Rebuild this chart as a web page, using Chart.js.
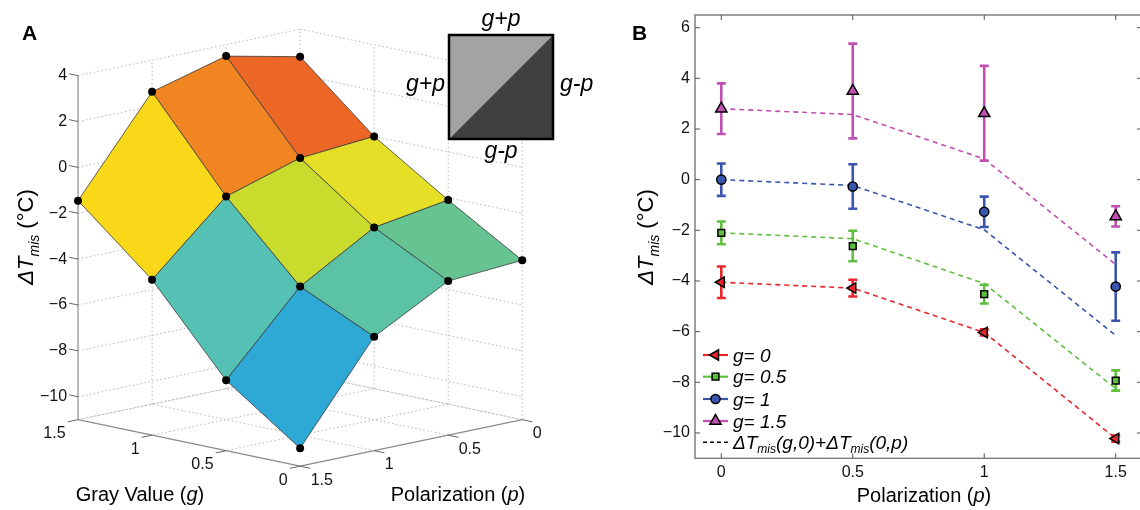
<!DOCTYPE html>
<html><head><meta charset="utf-8">
<script src="https://cdn.jsdelivr.net/npm/chart.js@4.4.0/dist/chart.umd.min.js"></script>
<style>
html,body{margin:0;padding:0;background:#fff;overflow:hidden;width:1140px;height:510px;}
#wrap{position:relative;width:1140px;height:510px;overflow:hidden;}
#cA{position:absolute;left:0;top:0;z-index:2;}
#cB{position:absolute;left:590px;top:0;z-index:1;}
</style></head><body>
<div id="wrap"><canvas id="cA" width="620" height="510"></canvas><canvas id="cB" width="560" height="510"></canvas></div>
<script>
// ---------------- DATA ----------------
const grayValues = [0, 0.5, 1, 1.5];
const polarizations = [0, 0.5, 1, 1.5];
// measured ΔT_mis (°C) for each gray value, indexed by polarization
const dT_g0  = [-4.05, -4.28, -6.03, -10.22];
const dT_g05 = [-2.10, -2.62, -4.52, -7.93];
const dT_g1  = [0.00, -0.27, -1.27, -4.22];
const dT_g15 = [2.80, 3.50, 2.62, -1.45];
// error bar half-lengths
const err_g0  = [0.62, 0.33, 0.12, 0.12];
const err_g05 = [0.45, 0.60, 0.37, 0.40];
const err_g1  = [0.64, 0.88, 0.60, 1.35];
const err_g15 = [1.00, 1.87, 1.87, 0.40];
// additive prediction ΔT(g,0)+ΔT(0,p) (dashed lines)
const pred_g0  = [-4.05, -4.28, -6.03, -10.22];
const pred_g05 = [-2.10, -2.33, -4.10, -8.25];
const pred_g1  = [0.00, -0.23, -1.98, -6.15];
const pred_g15 = [2.80, 2.57, 0.82, -3.35];
const seriesLabels = ['0', '0.5', '1', '1.5'];
// tick labels
const zTicks = [-10, -8, -6, -4, -2, 0, 2, 4];
const zLimits = [-11, 4];
const gTicks = [0, 0.5, 1, 1.5];
const pTicks = [0, 0.5, 1, 1.5];
const bXTicks = [0, 0.5, 1, 1.5];
const bYTicks = [-10, -8, -6, -4, -2, 0, 2, 4, 6];
// surface patch colours (colormap), rows: g interval, cols: p interval
const patchColors = [
  ['#66c392', '#5bc2a3', '#2ea8d5'],
  ['#e5e027', '#c9dc2d', '#55c1b5'],
  ['#ec6626', '#f08522', '#f9d81a']
];

// ---------------- STYLE ----------------
const FONT = '"Liberation Sans", Arial, Helvetica, sans-serif';
const measured = [dT_g0, dT_g05, dT_g1, dT_g15];
const errors = [err_g0, err_g05, err_g1, err_g15];
const predicted = [pred_g0, pred_g05, pred_g1, pred_g15];
const seriesColors = ['#e8262b', '#5fbf3f', '#3a55ad', '#c24fb2'];
const markerStyles = [
  {pointStyle:'triangle', rotation:270, radius:6},
  {pointStyle:'rect', rotation:0, radius:4.8},
  {pointStyle:'circle', rotation:0, radius:4.6},
  {pointStyle:'triangle', rotation:0, radius:6.5}
];
const DEPTH = 31.5 / 23.3; // oblique slant of the floor relative to the temperature axis

function fmtNum(v){ return v < 0 ? '\u2212' + String(-v) : String(v); }
function richWidth(ctx, parts){ let w=0; for(const p of parts){ ctx.font=p.font; w+=ctx.measureText(p.t).width; } return w; }
function drawRich(ctx, parts, x, y, align){
  const w = richWidth(ctx, parts);
  let cx = align==='center' ? x - w/2 : (align==='right' ? x - w : x);
  ctx.textAlign='left'; ctx.textBaseline='alphabetic';
  for(const p of parts){ ctx.font=p.font; ctx.fillText(p.t, cx, y + (p.dy||0)); cx += ctx.measureText(p.t).width; }
}
function dTitleParts(size){
  return [
    {t:'\u0394T', font:'italic '+size+'px '+FONT},
    {t:'mis', font:'italic '+Math.round(size*0.62)+'px '+FONT, dy:size*0.25},
    {t:' (\u00B0C)', font:size+'px '+FONT}
  ];
}

// ---------------- PANEL A (3D surface, oblique projection) ----------------
const surfPoints = [];
grayValues.forEach((g,gi)=>polarizations.forEach((p,pj)=>{
  surfPoints.push({x: g + p, y: measured[gi][pj] - DEPTH*(p - g)});
}));

const surfacePlugin = {
  id:'surface3d',
  beforeDatasetsDraw(chart){
    const ctx=chart.ctx, xs=chart.scales.x, ys=chart.scales.y;
    const P=(g,p,z)=>[xs.getPixelForValue(g+p), ys.getPixelForValue(z - DEPTH*(p-g))];
    const line=(a,b)=>{ ctx.beginPath(); ctx.moveTo(a[0],a[1]); ctx.lineTo(b[0],b[1]); ctx.stroke(); };
    const gMax=grayValues[grayValues.length-1], pMax=polarizations[polarizations.length-1];
    const zLo=zLimits[0], zHi=zLimits[1];
    ctx.save();
    // dotted grid on back walls and floor
    ctx.strokeStyle='#b5b5b5'; ctx.lineWidth=1; ctx.setLineDash([1.5,2.5]);
    zTicks.forEach(z=>{ line(P(gMax,pMax,z),P(gMax,0,z)); line(P(gMax,0,z),P(0,0,z)); });
    line(P(gMax,pMax,zLo),P(gMax,0,zLo)); line(P(gMax,0,zLo),P(0,0,zLo));
    pTicks.forEach(p=>{ if(p<pMax) line(P(gMax,p,zLo),P(gMax,p,zHi)); });
    gTicks.forEach(g=>{ if(g<gMax) line(P(g,0,zLo),P(g,0,zHi)); });
    gTicks.forEach(g=>{ if(g>0) line(P(g,0,zLo),P(g,pMax,zLo)); });
    pTicks.forEach(p=>{ if(p<pMax) line(P(0,p,zLo),P(gMax,p,zLo)); });
    // solid axes
    ctx.setLineDash([]); ctx.strokeStyle='#8c8c8c'; ctx.lineWidth=1.2;
    line(P(gMax,pMax,zLo),P(gMax,pMax,zHi));
    line(P(gMax,pMax,zLo),P(0,pMax,zLo));
    line(P(0,pMax,zLo),P(0,0,zLo));
    ctx.strokeStyle='#666'; ctx.lineWidth=1;
    zTicks.forEach(z=>line(P(gMax,pMax,z),P(gMax+0.06,pMax,z)));
    gTicks.forEach(g=>line(P(g,pMax,zLo),P(g,pMax+0.07,zLo)));
    pTicks.forEach(p=>line(P(0,p,zLo),P(-0.07,p,zLo)));
    // tick labels
    ctx.fillStyle='#111'; ctx.font='16px '+FONT; ctx.textBaseline='middle';
    ctx.textAlign='right';
    zTicks.forEach(z=>{ const a=P(gMax,pMax,z); ctx.fillText(fmtNum(z), a[0]-11, a[1]); });
    gTicks.forEach(g=>{ const a=P(g,pMax,zLo); ctx.fillText(fmtNum(g), a[0]-12.5, a[1]+14); });
    ctx.textAlign='left';
    pTicks.forEach(p=>{ const a=P(0,p,zLo); ctx.fillText(fmtNum(p), a[0]+10.5, a[1]+14); });
    // surface patches, far to near
    const patches=[];
    for(let i=0;i<grayValues.length-1;i++) for(let j=0;j<polarizations.length-1;j++){
      const gc=(grayValues[i]+grayValues[i+1])/2, pc=(polarizations[j]+polarizations[j+1])/2;
      patches.push({i,j,depth:gc-pc});
    }
    patches.sort((a,b)=>b.depth-a.depth);
    ctx.strokeStyle='#3a3a3a'; ctx.lineWidth=0.8; ctx.lineJoin='round';
    patches.forEach(({i,j})=>{
      const c=[[i,j],[i+1,j],[i+1,j+1],[i,j+1]].map(([a,b])=>P(grayValues[a],polarizations[b],measured[a][b]));
      ctx.beginPath(); ctx.moveTo(c[0][0],c[0][1]); for(let k=1;k<4;k++) ctx.lineTo(c[k][0],c[k][1]); ctx.closePath();
      ctx.fillStyle=patchColors[i][j]; ctx.fill(); ctx.stroke();
    });
    ctx.restore();
  },
  afterDraw(chart){
    const ctx=chart.ctx;
    ctx.save();
    ctx.fillStyle='#000';
    ctx.font='bold 21px '+FONT; ctx.textAlign='left'; ctx.textBaseline='alphabetic';
    ctx.fillText('A', 22, 39.5);
    // inset square legend
    const L=449, T=35, S=104;
    ctx.fillStyle='#a3a3a3'; ctx.beginPath(); ctx.moveTo(L,T); ctx.lineTo(L+S,T); ctx.lineTo(L,T+S); ctx.closePath(); ctx.fill();
    ctx.fillStyle='#404040'; ctx.beginPath(); ctx.moveTo(L+S,T); ctx.lineTo(L+S,T+S); ctx.lineTo(L,T+S); ctx.closePath(); ctx.fill();
    ctx.strokeStyle='#000'; ctx.lineWidth=2.5; ctx.strokeRect(L,T,S,S);
    ctx.fillStyle='#000'; ctx.font='italic 23px '+FONT;
    ctx.textAlign='center'; ctx.fillText('g+p', L+S/2, 26); ctx.fillText('g-p', L+S/2, 158);
    ctx.textAlign='right'; ctx.fillText('g+p', 445, 91);
    ctx.textAlign='left'; ctx.fillText('g-p', 560, 91);
    // axis titles
    drawRich(ctx,[{t:'Gray Value (',font:'20px '+FONT},{t:'g',font:'italic 20px '+FONT},{t:')',font:'20px '+FONT}],140,501,'center');
    drawRich(ctx,[{t:'Polarization (',font:'20px '+FONT},{t:'p',font:'italic 20px '+FONT},{t:')',font:'20px '+FONT}],458,501,'center');
    ctx.save(); ctx.translate(33,237); ctx.rotate(-Math.PI/2);
    drawRich(ctx,dTitleParts(22),0,0,'center'); ctx.restore();
    ctx.restore();
  }
};

new Chart(document.getElementById('cA'), {
  type:'scatter',
  data:{datasets:[{data:surfPoints, pointRadius:4, pointBackgroundColor:'#000', pointBorderWidth:0, showLine:false}]},
  options:{
    responsive:false, animation:false, events:[],
    layout:{padding:0},
    plugins:{legend:{display:false}, tooltip:{enabled:false}},
    scales:{
      x:{type:'linear', reverse:true, min:-0.63333, max:3.5, display:false},
      y:{type:'linear', min:-14.764, max:7.1245, display:false}
    }
  },
  plugins:[surfacePlugin]
});

// ---------------- PANEL B ----------------
function drawMarker(ctx, st, x, y, color){
  ctx.save(); ctx.fillStyle=color; ctx.strokeStyle='#000'; ctx.lineWidth=1.5;
  ctx.beginPath();
  if(st.pointStyle==='circle'){ ctx.arc(x,y,st.radius,0,Math.PI*2); }
  else if(st.pointStyle==='rect'){ const s=st.radius*Math.SQRT1_2; ctx.rect(x-s,y-s,2*s,2*s); }
  else { let rad=st.rotation*Math.PI/180; for(let k=0;k<3;k++){ const px=x+Math.sin(rad)*st.radius, py=y-Math.cos(rad)*st.radius; k?ctx.lineTo(px,py):ctx.moveTo(px,py); rad+=2*Math.PI/3; } ctx.closePath(); }
  ctx.fill(); ctx.stroke(); ctx.restore();
}

const datasetsB = [];
measured.forEach((vals,k)=>{
  datasetsB.push({
    label:'g = '+seriesLabels[k],
    data:polarizations.map((p,i)=>({x:p,y:vals[i]})),
    errors:errors[k],
    showLine:false,
    pointStyle:markerStyles[k].pointStyle, rotation:markerStyles[k].rotation, pointRadius:markerStyles[k].radius,
    pointBackgroundColor:seriesColors[k], pointBorderColor:'#000', pointBorderWidth:1.5,
    errColor:seriesColors[k]
  });
});
predicted.forEach((vals,k)=>{
  datasetsB.push({
    label:'prediction g = '+seriesLabels[k],
    data:polarizations.map((p,i)=>({x:p,y:vals[i]})),
    showLine:true, borderColor:seriesColors[k], borderWidth:1.6, borderDash:[5,4], pointRadius:0, fill:false
  });
});

const errorBarPlugin = {
  id:'errbars',
  beforeDatasetsDraw(chart){
    const ctx=chart.ctx, xs=chart.scales.x, ys=chart.scales.y;
    ctx.save(); ctx.lineWidth=2.6; ctx.lineCap='butt';
    chart.data.datasets.forEach(ds=>{
      if(!ds.errors) return;
      ctx.strokeStyle=ds.errColor;
      ds.data.forEach((pt,i)=>{
        const x=xs.getPixelForValue(pt.x), y1=ys.getPixelForValue(pt.y+ds.errors[i]), y2=ys.getPixelForValue(pt.y-ds.errors[i]);
        ctx.beginPath(); ctx.moveTo(x,y1); ctx.lineTo(x,y2);
        ctx.moveTo(x-4.5,y1); ctx.lineTo(x+4.5,y1); ctx.moveTo(x-4.5,y2); ctx.lineTo(x+4.5,y2); ctx.stroke();
      });
    });
    ctx.restore();
  }
};

const frameBPlugin = {
  id:'frameB',
  afterDraw(chart){
    const ctx=chart.ctx, a=chart.chartArea, xs=chart.scales.x, ys=chart.scales.y;
    ctx.save(); ctx.strokeStyle='#808080'; ctx.lineWidth=1.5;
    ctx.strokeRect(a.left,a.top,a.right-a.left,a.bottom-a.top);
    ctx.lineWidth=1; ctx.strokeStyle='#555';
    bXTicks.forEach(v=>{ const x=xs.getPixelForValue(v); ctx.beginPath(); ctx.moveTo(x,a.bottom); ctx.lineTo(x,a.bottom-5); ctx.moveTo(x,a.top); ctx.lineTo(x,a.top+5); ctx.stroke(); });
    bYTicks.forEach(v=>{ const y=ys.getPixelForValue(v); ctx.beginPath(); ctx.moveTo(a.left,y); ctx.lineTo(a.left+5,y); ctx.moveTo(a.right,y); ctx.lineTo(a.right-5,y); ctx.stroke(); });
    // legend
    const rows=[355,376.7,399,421,442.3];
    const lx1=113, lx2=138, mx=125.5, tx=143;
    seriesLabels.forEach((lab,k)=>{
      const y=rows[k];
      ctx.strokeStyle=seriesColors[k]; ctx.lineWidth=2.2; ctx.setLineDash([]);
      ctx.beginPath(); ctx.moveTo(lx1,y); ctx.lineTo(lx2,y); ctx.stroke();
      drawMarker(ctx, markerStyles[k], mx, y, seriesColors[k]);
      ctx.fillStyle='#000';
      drawRich(ctx,[{t:'g',font:'italic 19px '+FONT},{t:'= '+lab,font:'italic 19px '+FONT}],tx,y+6.5,'left');
    });
    const y5=rows[4];
    ctx.strokeStyle='#000'; ctx.lineWidth=1.6; ctx.setLineDash([4,3]);
    ctx.beginPath(); ctx.moveTo(lx1,y5); ctx.lineTo(lx2,y5); ctx.stroke(); ctx.setLineDash([]);
    ctx.fillStyle='#000';
    const it='italic 19px '+FONT, sub='italic 12px '+FONT;
    drawRich(ctx,[{t:'\u0394T',font:it},{t:'mis',font:sub,dy:4},{t:'(g,0)+',font:it},{t:'\u0394T',font:it},{t:'mis',font:sub,dy:4},{t:'(0,p)',font:it}],tx,y5+6.5,'left');
    // titles
    ctx.font='bold 21px '+FONT; ctx.textAlign='left'; ctx.textBaseline='alphabetic';
    ctx.fillText('B', 42, 39.5);
    drawRich(ctx,[{t:'Polarization (',font:'20px '+FONT},{t:'p',font:'italic 20px '+FONT},{t:')',font:'20px '+FONT}],334,502,'center');
    ctx.save(); ctx.translate(63,237); ctx.rotate(-Math.PI/2);
    drawRich(ctx,dTitleParts(22),0,0,'center'); ctx.restore();
    ctx.restore();
  }
};

new Chart(document.getElementById('cB'), {
  type:'scatter',
  data:{datasets:datasetsB},
  options:{
    responsive:false, animation:false, events:[],
    layout:{padding:{left:0, top:15, right:4.4, bottom:0}},
    plugins:{legend:{display:false}, tooltip:{enabled:false}},
    scales:{
      x:{type:'linear', min:-0.1, max:1.6,
         grid:{display:false, drawTicks:false}, border:{display:false},
         afterBuildTicks:s=>{ s.ticks=bXTicks.map(v=>({value:v})); },
         afterFit:s=>{ s.height=51.7; },
         ticks:{font:{family:FONT,size:16}, color:'#111', padding:5, maxRotation:0, autoSkip:false, callback:v=>fmtNum(v)}},
      y:{type:'linear', min:-11, max:6.5,
         grid:{display:false, drawTicks:false}, border:{display:false},
         afterBuildTicks:s=>{ s.ticks=bYTicks.map(v=>({value:v})); },
         afterFit:s=>{ s.width=105; },
         ticks:{font:{family:FONT,size:16}, color:'#111', padding:5, autoSkip:false, callback:v=>fmtNum(v)}}
    }
  },
  plugins:[errorBarPlugin, frameBPlugin]
});
</script>
</body></html>
